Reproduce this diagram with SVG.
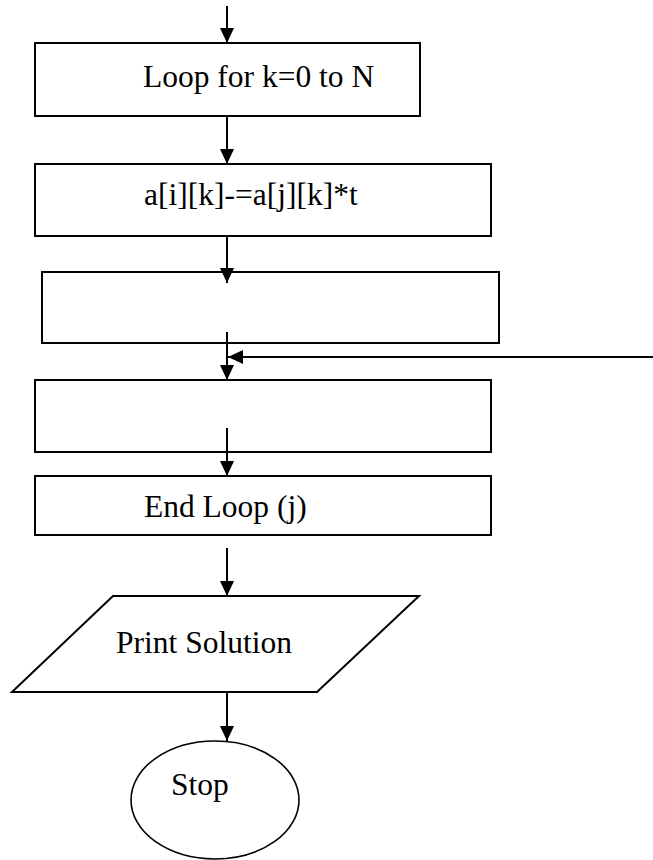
<svg xmlns="http://www.w3.org/2000/svg" width="653" height="860" viewBox="0 0 653 860">
  <style>
    .box { fill: #ffffff; stroke: #000000; stroke-width: 2; }
    .term { fill: #ffffff; stroke: #000000; stroke-width: 1.6; }
    .lbl { font-family: "Liberation Serif", "Times New Roman", serif; font-size: 31.5px; fill: #000000; }
    .flow { stroke: #000000; stroke-width: 2; fill: none; marker-end: url(#arrow); }
  </style>
  <defs>
    <marker id="arrow" viewBox="0 0 15 14" refX="15" refY="7" markerWidth="15" markerHeight="14" markerUnits="userSpaceOnUse" orient="auto">
      <path d="M0,0 L15,7 L0,14 z" fill="#000000"/>
    </marker>
  </defs>

  <rect width="653" height="860" fill="#ffffff"/>

  <g id="loop-k">
    <rect class="box" x="35" y="43" width="385" height="73"/>
    <text class="lbl" x="143" y="87">Loop for k=0 to N</text>
  </g>

  <g id="update-row">
    <rect class="box" x="35" y="164" width="456" height="72"/>
    <text class="lbl" x="144" y="205">a[i][k]-=a[j][k]*t</text>
  </g>

  <g id="empty-step-1">
    <rect class="box" x="42" y="272" width="457" height="71"/>
  </g>

  <g id="empty-step-2">
    <rect class="box" x="35" y="380" width="456" height="72"/>
  </g>

  <g id="end-loop-j">
    <rect class="box" x="35" y="476" width="456" height="59"/>
    <text class="lbl" x="144" y="517">End Loop (j)</text>
  </g>

  <g id="print-solution">
    <polygon class="box" points="113,596 419,596 317,692 12,692"/>
    <text class="lbl" x="116" y="653">Print Solution</text>
  </g>

  <g id="stop">
    <ellipse class="term" cx="215" cy="800" rx="84" ry="59"/>
    <text class="lbl" x="171" y="795">Stop</text>
  </g>

  <g id="connectors">
    <line class="flow" x1="227" y1="6" x2="227" y2="43"/>
    <line class="flow" x1="227" y1="116" x2="227" y2="164"/>
    <line class="flow" x1="227" y1="236" x2="227" y2="283"/>
    <line class="flow" x1="227" y1="332" x2="227" y2="380"/>
    <line class="flow" x1="653" y1="357" x2="228" y2="357"/>
    <line class="flow" x1="227" y1="428" x2="227" y2="476"/>
    <line class="flow" x1="227" y1="548" x2="227" y2="596"/>
    <line class="flow" x1="227" y1="692" x2="227" y2="741"/>
  </g>
</svg>
